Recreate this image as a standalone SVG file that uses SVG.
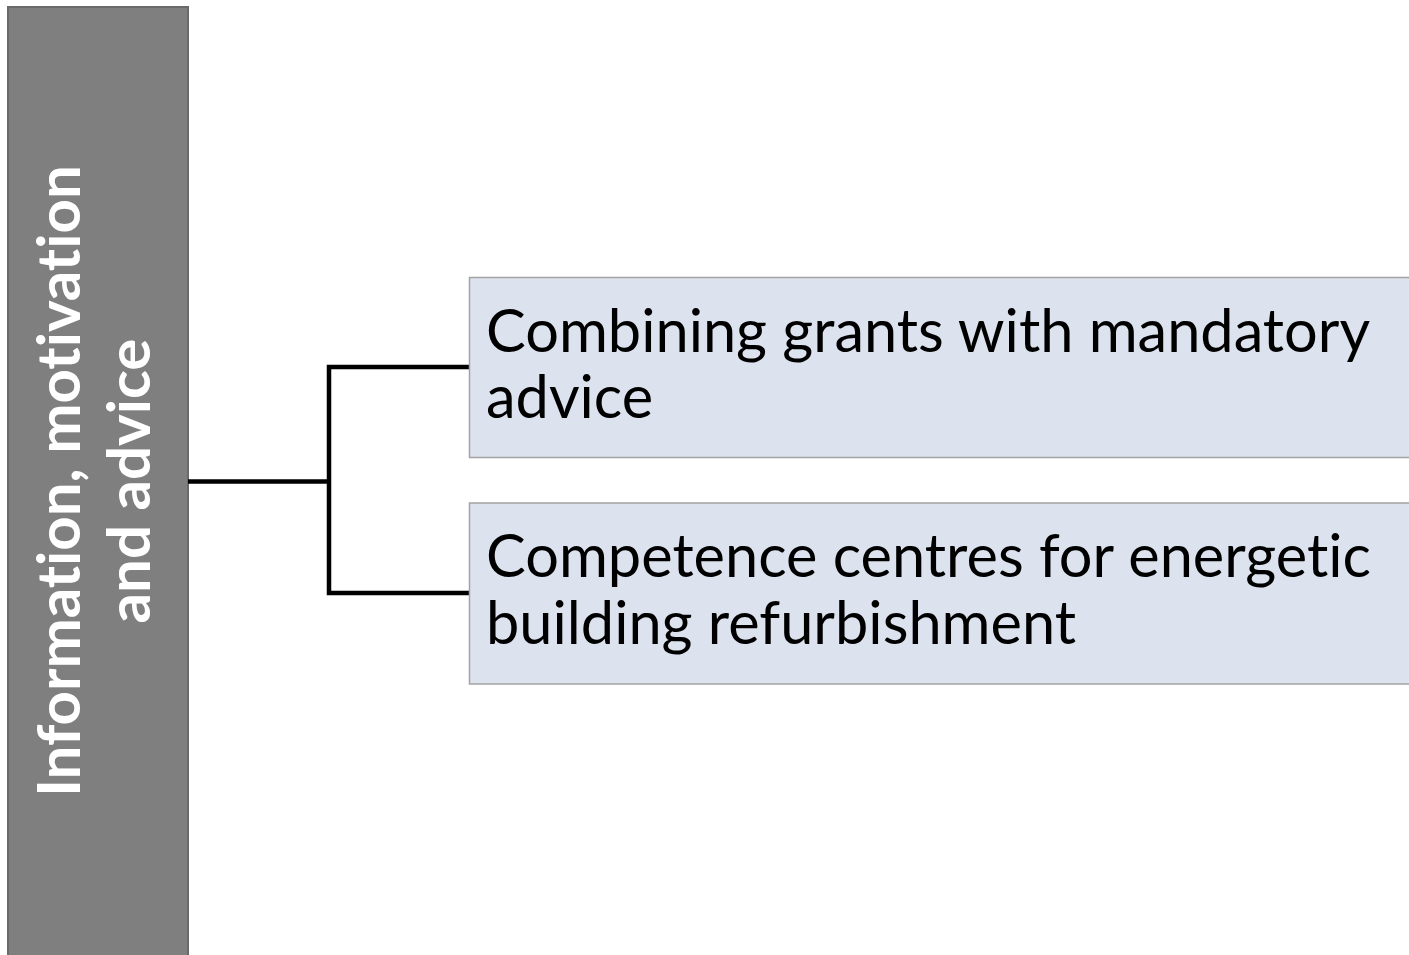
<svg xmlns="http://www.w3.org/2000/svg" width="1409" height="955" viewBox="0 0 1409 955">
<style>
.main{fill:#7f7f7f;stroke:#6a6a6a;stroke-width:2}
.sub{fill:#dce3ef;stroke:#a3a3a3;stroke-width:1.5}
.vt{font-family:Lato,"Open Sans",sans-serif;font-weight:bold;font-size:60px;fill:#ffffff;text-anchor:middle;font-variant-ligatures:none}
.ht{font-family:Lato,"Open Sans",sans-serif;font-size:59.5px;fill:#000000;font-variant-ligatures:none}
.conn{fill:none;stroke:#000000;stroke-width:4.5;stroke-linejoin:miter}
</style>
<rect width="1409" height="955" fill="#ffffff"/>
<g id="node-main">
<rect class="main" x="8" y="7" width="180" height="960"/>
<g transform="translate(0,481) rotate(-90)">
<text class="vt" x="0" y="80">Information, motivation</text>
<text class="vt" x="0" y="150">and advice</text>
</g>
</g>
<g id="connectors">
<path class="conn" d="M188,481.5 H329 M469,367 H329 V593 H469"/>
</g>
<g id="node-grants">
<rect class="sub" x="469.5" y="277.5" width="960" height="180"/>
<text class="ht" x="486" y="352">Combining grants with mandatory</text>
<text class="ht" x="486" y="418">advice</text>
</g>
<g id="node-competence">
<rect class="sub" x="469.5" y="503" width="960" height="181"/>
<text class="ht" x="486" y="577">Competence centres for energetic</text>
<text class="ht" x="486" y="644">building refurbishment</text>
</g>
</svg>
